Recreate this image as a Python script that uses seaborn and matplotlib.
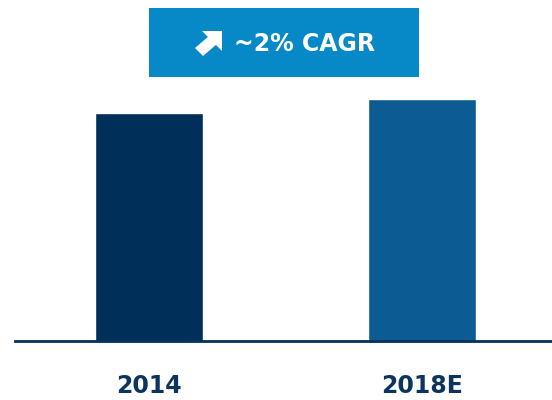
import seaborn as sns
import matplotlib.pyplot as plt
import pandas as pd
from matplotlib.patches import Rectangle, Polygon

# data
years = ["2014", "2018E"]
values = [100, 106]
bar_colors = ["#00305a", "#0c5b92"]
cagr_label = "~2% CAGR"

df = pd.DataFrame({"year": years, "value": values})

sns.set_style("white")
plt.rcParams["font.family"] = ["DejaVu Sans"]

W, H = 552, 400
fig = plt.figure(figsize=(W / 100, H / 100), dpi=100)
ax = fig.add_axes([15 / W, 1 - 341 / H, 1 - 15 / W, 341 / H])

sns.barplot(data=df, x="year", y="value", hue="year", palette=bar_colors,
            width=0.3955, legend=False, ax=ax, saturation=1)

ax.set_xlim(-0.4907, 1.476)
ax.set_ylim(0, 149.6)
ax.set_xlabel("")
ax.set_ylabel("")
ax.set_yticks([])
for s in ["top", "right", "left"]:
    ax.spines[s].set_visible(False)
ax.spines["bottom"].set_color("#00305a")
ax.spines["bottom"].set_linewidth(2)
ax.tick_params(axis="x", length=0, pad=24, labelsize=17, labelcolor="#0b3560")
for lbl in ax.get_xticklabels():
    lbl.set_fontweight("bold")


def px(pts):
    # pixel coords (y down) -> figure fraction
    return [(x / W, 1 - y / H) for x, y in pts]


# CAGR box
fig.add_artist(Rectangle((149 / W, 1 - 77 / H), 270 / W, 69 / H,
                         transform=fig.transFigure, color="#0689c6", lw=0))
# arrow icon
head = [(202, 31), (222, 31), (222, 51)]
shaft = [(209, 36), (217, 44), (203, 56), (195, 48)]
for shape in (head, shaft):
    fig.add_artist(Polygon(px(shape), closed=True, transform=fig.transFigure,
                           facecolor="white", lw=0))
fig.text(304 / W, 1 - 44 / H, cagr_label, color="white", fontsize=17,
         fontweight="bold", ha="center", va="center")

fig.savefig("out.png", dpi=100)
